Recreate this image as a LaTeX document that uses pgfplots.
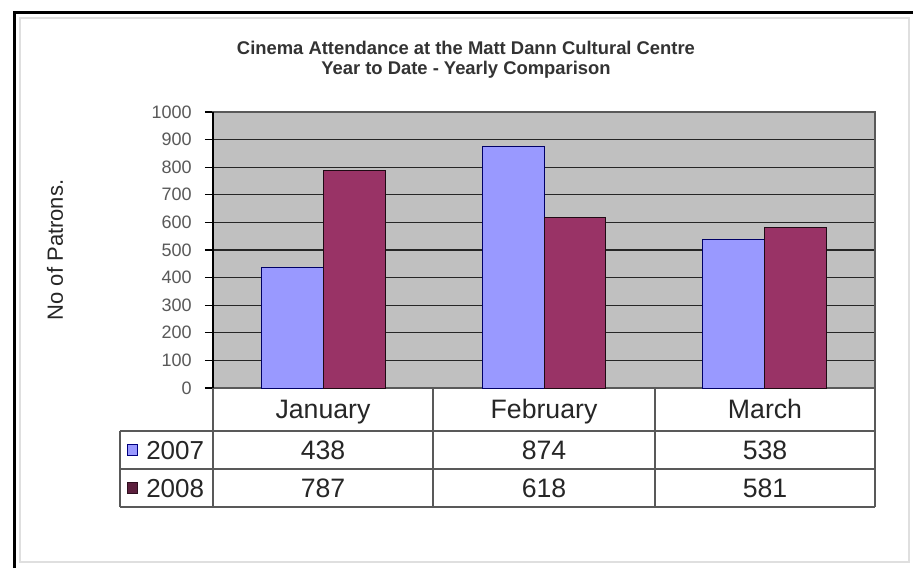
\documentclass[border=0pt]{standalone}
\usepackage{fontspec}
\setmainfont{Liberation Sans}
\usepackage{pgfplots}
\pgfplotsset{compat=1.18}
\definecolor{c07}{HTML}{9999FF}
\definecolor{c08}{HTML}{993366}
\definecolor{plotbg}{HTML}{C0C0C0}
\begin{document}
\begin{tikzpicture}
\begin{scope}[x=0.75pt,y=-0.75pt,shift={(-213,-388)}]
\useasboundingbox (0,0) rectangle (913,568);
\fill[white] (0,0) rectangle (913,568);
\draw[gray!25, line width=0.8pt] (20,18) -- (909,18) -- (909,562) -- (20,562) -- cycle;
\draw[black, line width=2.6pt] (14.5,568) -- (14.5,12.5) -- (913,12.5);
\end{scope}
\begin{axis}[
 at={(0,0)}, anchor=south west,
 scale only axis, width=496.5pt, height=207pt,
 xmin=-0.5, xmax=2.5, ymin=0, ymax=1000,
 xtick=\empty, ytick={0,100,...,1000}, ytick pos=left,
 ymajorgrids, grid style={black!85, line width=0.9pt},
 axis background/.style={fill=plotbg},
 axis line style={gray!70!black, line width=0.8pt},
 tick align=outside, major tick length=6pt, tick style={black, line width=0.8pt},
 yticklabel style={font=\fontsize{13.5}{15}\selectfont, text=black!65, xshift=-6.5pt},
 /pgf/number format/assume math mode=true,
 /pgf/number format/1000 sep={},
 ybar, bar width=0.28,
]
\addplot[fill=c07, draw=black!60!blue, line width=0.7pt, bar shift=-0.14] coordinates {(0,438) (1,874) (2,538)};
\addplot[fill=c08, draw=black!80!c08, line width=0.7pt, bar shift=0.14] coordinates {(0,787) (1,618) (2,581)};
\end{axis}
\begin{scope}[x=0.75pt,y=-0.75pt,shift={(-213,-388)}]
\draw[black, line width=0.8pt] (213,112) -- (213,388);
\node[font=\fontsize{13.8}{15}\selectfont\bfseries, text=black!80] at (466,48) {Cinema Attendance at the Matt Dann Cultural Centre};
\node[font=\fontsize{13.8}{15}\selectfont\bfseries, text=black!80] at (466,70) {Year to Date - Yearly Comparison};
\node[rotate=90, font=\fontsize{16.5}{18}\selectfont, text=black!85] at (55,250) {No of Patrons.};
% table
\begin{scope}[black!65, line width=0.8pt]
\draw (213,388) -- (213,507);
\draw (433,388) -- (433,507);
\draw (655,388) -- (655,507);
\draw (875,388) -- (875,507);
\draw (120,431) -- (120,507);
\draw (120,431) -- (875,431);
\draw (120,469) -- (875,469);
\draw (120,507) -- (875,507);
\end{scope}
\begin{scope}[font=\fontsize{20}{22}\selectfont, text=black!85, anchor=base]
\node at (323,418) {January};
\node at (544,418) {February};
\node at (765,418) {March};
\node at (323,459) {438};
\node at (544,459) {874};
\node at (765,459) {538};
\node at (323,497) {787};
\node at (544,497) {618};
\node at (765,497) {581};
\end{scope}
\begin{scope}[font=\fontsize{19.5}{21}\selectfont, text=black!85]
\node[anchor=base west, inner sep=0pt] at (146,459) {2007};
\node[anchor=base west, inner sep=0pt] at (146,497) {2008};
\end{scope}
\filldraw[fill=c07, draw=black!50!blue, line width=0.5pt] (127,444) rectangle (137,455);
\filldraw[fill=black!40!c08, draw=black!70!c08, line width=0.5pt] (127,482) rectangle (137,493);
\end{scope}
\end{tikzpicture}
\end{document}
